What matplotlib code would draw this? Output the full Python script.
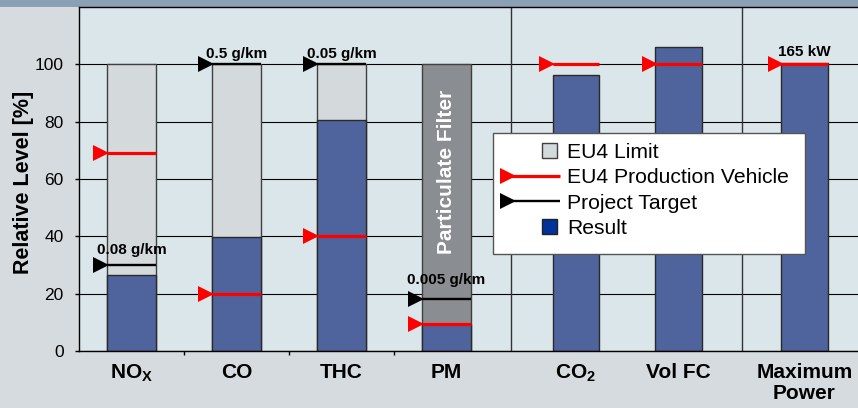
import matplotlib
matplotlib.use("Agg")
import matplotlib.pyplot as plt
from matplotlib.patches import Rectangle, Patch
from matplotlib.lines import Line2D
from matplotlib.legend_handler import HandlerBase
from matplotlib.transforms import offset_copy

plt.rcParams['font.family'] = ['Liberation Sans', 'DejaVu Sans']
plt.rcParams['mathtext.fontset'] = 'custom'
plt.rcParams['mathtext.rm'] = 'Liberation Sans'
plt.rcParams['mathtext.bf'] = 'Liberation Sans:bold'
plt.rcParams['mathtext.it'] = 'Liberation Sans:italic'

# ---------------- data ----------------
categories = ['NOx', 'CO', 'THC', 'PM', 'CO2', 'Vol FC', 'Maximum Power']
tick_labels = [r'$\mathbf{NO}_\mathbf{X}$', 'CO', 'THC', 'PM',
               r'$\mathbf{CO}_\mathbf{2}$', 'Vol FC', 'Maximum\nPower']
eu4_limit = [100, 100, 100]            # NOx, CO, THC
pm_filter = [100]                      # PM (particulate filter)
result = [26.4, 39.8, 80.5, 9.5, 96.3, 106.1, 100.3]
production = [69, 20, 40, 9.5, 100, 100, 100]
target = [30, 100, 100, 18]            # NOx, CO, THC, PM
target_labels = ['0.08 g/km', '0.5 g/km', '0.05 g/km', '0.005 g/km']
power_label = '165 kW'
y_ticks = [0, 20, 40, 60, 80, 100]

# ---------------- layout / style ----------------
positions = [0.5, 1.5, 2.5, 3.5, 4.73, 5.71, 6.91]
widths = [0.476] * 4 + [0.44] * 3
separators = [4.11, 6.31]
label_off_px = [11, 6, 6, 15]
power_off_px = 8

C_FIG = '#d5dbde'
C_AX = '#dae6ea'
C_BAND = '#8ba0b4'
C_LIMIT = '#d4d9dc'
C_RESULT = '#4f649c'
C_FILTER = '#8a8d92'
C_LEG_RES = '#003399'

W, H = 858, 408
fig = plt.figure(figsize=(W / 100, H / 100), dpi=100, facecolor=C_FIG)
ax = fig.add_axes([79 / W, 1 - 351 / H, 787.5 / W, 344 / H], facecolor=C_AX)

fig.patches.append(Rectangle((0, 1 - 7 / H), 1, 7 / H, transform=fig.transFigure,
                             facecolor=C_BAND, edgecolor='none', zorder=-1))

ax.set_xlim(0, 7.5)
ax.set_ylim(0, 120)

# gridlines
ax.set_axisbelow(True)
ax.yaxis.grid(True, color='black', lw=0.8)
for s in separators:
    ax.axvline(s, color='#333333', lw=1.0, zorder=1.5)

# bars
ax.bar(positions[:3], eu4_limit, width=widths[:3], color=C_LIMIT,
       edgecolor='#404040', lw=1, zorder=2)
ax.bar(positions[3:4], pm_filter, width=widths[3:4], color=C_FILTER,
       edgecolor='#404040', lw=1, zorder=2)
ax.bar(positions, result, width=widths, color=C_RESULT,
       edgecolor='#2a2a2a', lw=1, zorder=2.5)

ax.text(positions[3], 62.4, 'Particulate Filter', rotation=90, color='white',
        fontsize=15, fontweight='bold', ha='center', va='center', zorder=3)

mk_tr = offset_copy(ax.transData, fig=fig, x=-4, y=0, units='points')

# production vehicle (red)
for x, w, v in zip(positions, widths, production):
    ax.plot([x - w / 2, x + w / 2], [v, v], color='red', lw=2.3,
            solid_capstyle='butt', zorder=4)
    ax.plot([x - w / 2], [v], marker='>', ms=11.5, color='red', mew=0,
            transform=mk_tr, zorder=4)

# project target (black)
for x, w, v, lab, off in zip(positions, widths, target, target_labels, label_off_px):
    ax.plot([x - w / 2, x + w / 2], [v, v], color='black', lw=1.7,
            solid_capstyle='butt', zorder=4.2)
    ax.plot([x - w / 2], [v], marker='>', ms=11.5, color='black', mew=0,
            transform=mk_tr, zorder=4.2)
    ax.annotate(lab, xy=(x, v), xytext=(0, off * 0.72), textcoords='offset points',
                ha='center', va='baseline', fontsize=11, fontweight='bold', zorder=4.3)

ax.annotate(power_label, xy=(positions[6], production[6]),
            xytext=(0, power_off_px * 0.72), textcoords='offset points',
            ha='center', va='baseline', fontsize=11, fontweight='bold', zorder=4.3)

# axes styling
ax.spines['right'].set_visible(False)
for side in ['left', 'bottom', 'top']:
    ax.spines[side].set_color('black')
    ax.spines[side].set_linewidth(1.0)

ax.set_yticks(y_ticks)
ax.set_yticklabels([str(t) for t in y_ticks])
ax.tick_params(axis='y', length=2.9, width=1, pad=8, labelsize=12.5, direction='out')

ax.set_xticks(positions)
ax.set_xticklabels(tick_labels, fontsize=15, fontweight='bold', linespacing=1.15)
ax.set_xticks([1, 2, 3], minor=True)
ax.tick_params(axis='x', which='major', length=0, pad=8.5)
ax.tick_params(axis='x', which='minor', length=3, width=1, direction='out')

ax.set_ylabel('Relative Level [%]', fontsize=15.5, fontweight='bold')
ax.yaxis.set_label_coords(23.5 / W, 1 - 182.5 / H, transform=fig.transFigure)
ax.yaxis.label.set_verticalalignment('center')

# legend
class SquareHandler(HandlerBase):
    def __init__(self, size=11.3, **kw):
        super().__init__(**kw)
        self.size = size

    def create_artists(self, legend, orig_handle, xdescent, ydescent, width,
                       height, fontsize, trans):
        s = self.size
        x0 = -xdescent + width - s - 2
        y0 = -ydescent + height / 2 - s / 2
        r = Rectangle((x0, y0), s, s, facecolor=orig_handle.get_facecolor(),
                      edgecolor=orig_handle.get_edgecolor(), lw=1.0, transform=trans)
        return [r]


class TriLineHandler(HandlerBase):
    def create_artists(self, legend, orig_handle, xdescent, ydescent, width,
                       height, fontsize, trans):
        y = -ydescent + height / 2
        ms = orig_handle.get_markersize()
        ln = Line2D([-xdescent + 2, -xdescent + width], [y, y],
                    color=orig_handle.get_color(), lw=orig_handle.get_linewidth(),
                    solid_capstyle='butt', transform=trans)
        mk = Line2D([-xdescent + ms / 2], [y], marker='>', ms=ms, mew=0,
                    color=orig_handle.get_color(), linestyle='none', transform=trans)
        return [ln, mk]


h_limit = Patch(facecolor=C_LIMIT, edgecolor='#404040')
h_prod = Line2D([], [], color='red', lw=2.3, marker='>', ms=11.5)
h_targ = Line2D([], [], color='black', lw=1.7, marker='>', ms=11.5)
h_res = Patch(facecolor=C_LEG_RES, edgecolor='#222222')

frame = Rectangle((493 / W, 1 - 254 / H), (805 - 493) / W, (254 - 133) / H,
                  transform=fig.transFigure, facecolor='white', edgecolor='#555555',
                  lw=1.0, zorder=5, clip_on=False)
ax.add_patch(frame)

leg = ax.legend([h_limit, h_prod, h_targ, h_res],
                ['EU4 Limit', 'EU4 Production Vehicle', 'Project Target', 'Result'],
                handler_map={Patch: SquareHandler(), Line2D: TriLineHandler()},
                loc='upper left', bbox_to_anchor=(500 / W, 1 - 143 / H),
                bbox_transform=fig.transFigure, frameon=False, borderpad=0,
                borderaxespad=0, handlelength=2.85, handletextpad=0.33,
                labelspacing=0.3, fontsize=15.2)
leg.set_zorder(6)

fig.savefig('out.png', dpi=100, facecolor=C_FIG)
